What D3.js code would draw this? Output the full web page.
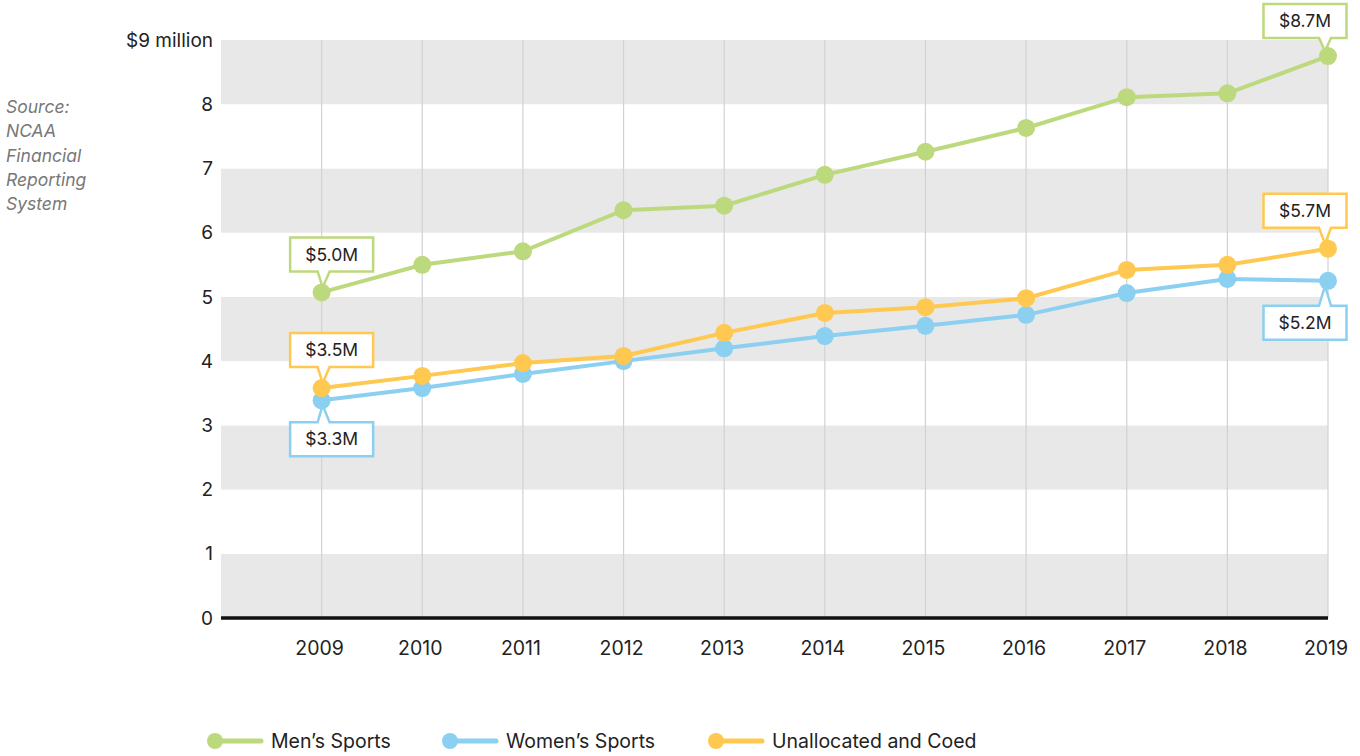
<!DOCTYPE html>
<html>
<head>
<meta charset="utf-8">
<script src="https://cdn.jsdelivr.net/npm/d3@7"></script>
<style>
  body { margin: 0; background: #fff; }
  svg { display: block; font-family: "Inter", "Roboto", sans-serif; }
</style>
</head>
<body>
<svg id="chart" width="1360" height="756"></svg>
<script>
// data
const years = [2009, 2010, 2011, 2012, 2013, 2014, 2015, 2016, 2017, 2018, 2019];
const mens = [5.07, 5.50, 5.71, 6.35, 6.42, 6.90, 7.26, 7.63, 8.11, 8.17, 8.75];
const womens = [3.39, 3.58, 3.80, 4.00, 4.20, 4.39, 4.55, 4.72, 5.06, 5.28, 5.25];
const unalloc = [3.58, 3.77, 3.97, 4.08, 4.44, 4.75, 4.84, 4.98, 5.42, 5.50, 5.75];
const yTicks = [0, 1, 2, 3, 4, 5, 6, 7, 8, 9];
const seriesNames = ["Men\u2019s Sports", "Women\u2019s Sports", "Unallocated and Coed"];
const sourceLines = ["Source:", "NCAA", "Financial", "Reporting", "System"];

const colors = ["#bdd97d", "#8bcff1", "#ffc850"];

const svg = d3.select("#chart");
const x = d3.scaleLinear().domain([2008, 2019]).range([221, 1328]);
const y = d3.scaleLinear().domain([0, 9]).range([618, 40]);

// alternating bands
svg.append("g").selectAll("rect")
  .data(yTicks.slice(0, -1))
  .enter().append("rect")
  .attr("x", x(2008))
  .attr("width", x(2019) - x(2008))
  .attr("y", d => y(d + 1))
  .attr("height", d => y(d) - y(d + 1))
  .attr("fill", d => d % 2 === 0 ? "#e8e8e8" : "#fff");

// vertical gridlines
svg.append("g").selectAll("line")
  .data(years)
  .enter().append("line")
  .attr("x1", d => x(d)).attr("x2", d => x(d))
  .attr("y1", y(9)).attr("y2", y(0))
  .attr("stroke", "#d2d2d2").attr("stroke-width", 1.2);

// baseline
svg.append("line")
  .attr("x1", x(2008)).attr("x2", x(2019))
  .attr("y1", y(0)).attr("y2", y(0))
  .attr("stroke", "#111").attr("stroke-width", 3.5);

// y labels
svg.append("g").selectAll("text")
  .data(yTicks)
  .enter().append("text")
  .attr("x", 213)
  .attr("y", d => y(d))
  .attr("dy", "0.35em")
  .attr("text-anchor", "end")
  .attr("font-size", 19)
  .attr("fill", "#222")
  .text(d => d === 9 ? "$9 million" : d);

// x labels
svg.append("g").selectAll("text")
  .data(years)
  .enter().append("text")
  .attr("x", d => x(d) - 2)
  .attr("y", 648)
  .attr("dy", "0.35em")
  .attr("text-anchor", "middle")
  .attr("font-size", 19.5)
  .attr("fill", "#222")
  .text(d => d);

// source
svg.append("g").selectAll("text")
  .data(sourceLines)
  .enter().append("text")
  .attr("x", 6)
  .attr("y", (d, i) => 113 + i * 24.3)
  .attr("font-size", 17.5)
  .attr("font-style", "italic")
  .attr("fill", "#777")
  .text(d => d);

const allSeries = [mens, womens, unalloc];
const line = d3.line().x((d, i) => x(years[i])).y(d => y(d));

// women first, then unallocated, then men
[1, 2, 0].forEach(k => {
  const g = svg.append("g");
  g.append("path")
    .attr("d", line(allSeries[k]))
    .attr("fill", "none")
    .attr("stroke", colors[k])
    .attr("stroke-width", 4);
  g.selectAll("circle")
    .data(allSeries[k])
    .enter().append("circle")
    .attr("cx", (d, i) => x(years[i]))
    .attr("cy", d => y(d))
    .attr("r", 9)
    .attr("fill", colors[k]);
});

// callouts
const callouts = [
  { s: 0, i: 0, text: "$5.0M", dx: 10, dy: -38, dir: "down" },
  { s: 2, i: 0, text: "$3.5M", dx: 10, dy: -38, dir: "down" },
  { s: 1, i: 0, text: "$3.3M", dx: 10, dy: 39, dir: "up" },
  { s: 0, i: 10, text: "$8.7M", dx: -23, dy: -35, dir: "down" },
  { s: 2, i: 10, text: "$5.7M", dx: -23, dy: -38, dir: "down" },
  { s: 1, i: 10, text: "$5.2M", dx: -23, dy: 42, dir: "up" }
];
const bw = 83, bh = 34;
callouts.forEach(c => {
  const px = x(years[c.i]), py = y(allSeries[c.s][c.i]);
  const cx = px + c.dx, cy = py + c.dy;
  const l = cx - bw / 2, r = cx + bw / 2, t = cy - bh / 2, b = cy + bh / 2;
  const tipX = px + (c.i === 0 ? 1 : -3);
  const nx = c.i === 0 ? px - 4 : px - 9;
  let p;
  if (c.dir === "down") {
    p = `M${l},${t}H${r}V${b}H${nx + 12}L${tipX},${py - 5}L${nx},${b}H${l}Z`;
  } else {
    p = `M${l},${t}H${nx}L${tipX},${py + 5}L${nx + 12},${t}H${r}V${b}H${l}Z`;
  }
  svg.append("path")
    .attr("d", p)
    .attr("fill", "#fff")
    .attr("stroke", colors[c.s])
    .attr("stroke-width", 2.5)
    .attr("stroke-linejoin", "miter");
  svg.append("text")
    .attr("x", cx)
    .attr("y", cy)
    .attr("dy", "0.35em")
    .attr("text-anchor", "middle")
    .attr("font-size", 17.5)
    .attr("fill", "#222")
    .text(c.text);
});

// legend
const legendX = [215, 450, 716];
const lg = svg.append("g");
seriesNames.forEach((name, k) => {
  const lx = legendX[k];
  lg.append("line")
    .attr("x1", lx).attr("x2", lx + 46)
    .attr("y1", 741).attr("y2", 741)
    .attr("stroke", colors[k]).attr("stroke-width", 5)
    .attr("stroke-linecap", "round");
  lg.append("circle")
    .attr("cx", lx).attr("cy", 741).attr("r", 8)
    .attr("fill", colors[k]);
  lg.append("text")
    .attr("x", lx + 56)
    .attr("y", 741)
    .attr("dy", "0.35em")
    .attr("font-size", 19.5)
    .attr("fill", "#222")
    .text(name);
});
</script>
</body>
</html>
